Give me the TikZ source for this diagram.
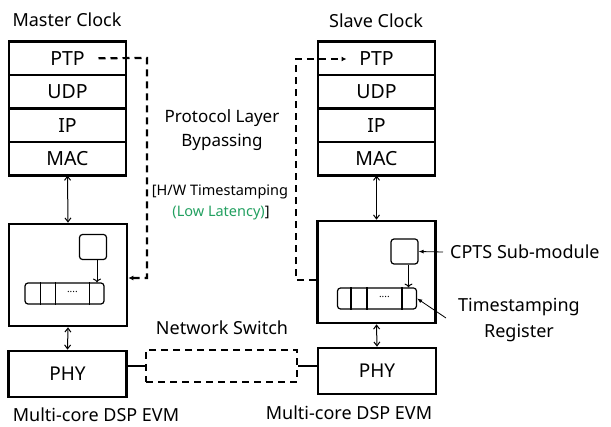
\documentclass[tikz,border=0pt]{standalone}
\usepackage{fontspec}
\setmainfont{Noto Sans}
\usepackage{tikz}
\usetikzlibrary{calc,positioning,arrows.meta}
\definecolor{latgreen}{RGB}{34,160,96}

\begin{document}
\begin{tikzpicture}[x=1pt,y=-1pt,
	layer/.style={draw,line width=2.4pt,outer sep=0pt,inner sep=0pt,minimum width=117pt,minimum height=33.5pt,font=\fontsize{19.5}{22}\selectfont},
	board/.style={draw,line width=2.6pt,inner sep=0pt,minimum width=118pt,minimum height=102pt},
	phybox/.style={draw,line width=2.6pt,inner sep=0pt,minimum width=118pt,minimum height=46pt,font=\fontsize{19}{22}\selectfont},
	cpts/.style={draw,line width=1.2pt,rounded corners=3pt,inner sep=0pt,minimum width=27pt,minimum height=25pt},
	reg/.style={draw,line width=1.2pt,rounded corners=3pt,inner sep=0pt,minimum width=79pt,minimum height=21pt},
	lbl/.style={inner sep=0pt,align=center,font=\fontsize{18}{26}\selectfont},
	note/.style={inner sep=0pt,font=\fontsize{14.5}{18}\selectfont},
	bypass/.style={dash pattern=on 7pt off 5pt,line width=2.2pt},
	link/.style={line width=2.6pt},
	dbl/.style={{Straight Barb[length=4pt,width=6pt]}-{Straight Barb[length=4pt,width=6pt]},line width=1pt},
	thin/.style={-{Latex[length=5pt,width=4pt]},line width=0.8pt}
]
\useasboundingbox (0,0) rectangle (611,427);

% master clock
\node[lbl] (mtitle) at (67,20) {Master Clock};
\node[layer] (mptp) at (67.5,58.25) {PTP};
\node[layer,below=0pt of mptp] (mudp) {UDP};
\node[layer,below=0pt of mudp] (mip) {IP};
\node[layer,below=0pt of mip] (mmac) {MAC};
\node[board] (mboard) at (68,275) {};
\node[cpts] (mcpts) at (93,247) {};
\node[reg] (mreg) at (64.5,293.5) {};
\foreach \d in {16,31,65}
	\draw[line width=1.2pt] ([xshift=\d pt]mreg.north west) -- ([xshift=\d pt]mreg.south west);
\node[font=\fontsize{10}{10}\selectfont] at ($(mreg.west)+(48,0)$) {····};
\node[phybox] (mphy) at (67.5,374) {PHY};
\node[lbl] (mevm) at (96,414.5) {Multi-core DSP EVM};

% slave clock
\node[lbl] (stitle) at (376,21) {Slave Clock};
\node[layer] (sptp) at (376.5,58.25) {PTP};
\node[layer,below=0pt of sptp] (sudp) {UDP};
\node[layer,below=0pt of sudp] (sip) {IP};
\node[layer,below=0pt of sip] (smac) {MAC};
\node[board] (sboard) at (376.5,272) {};
\node[cpts] (scpts) at (404.5,251.5) {};
\node[reg] (sreg) at (377,298.5) {};
\foreach \d in {14,30,65}
	\draw[line width=1.2pt] ([xshift=\d pt]sreg.north west) -- ([xshift=\d pt]sreg.south west);
\node[font=\fontsize{10}{10}\selectfont] at ($(sreg.west)+(47.5,0)$) {····};
\node[phybox] (sphy) at (377,371) {PHY};
\node[lbl] (sevm) at (349,413) {Multi-core DSP EVM};

% vertical links
\draw[dbl] (mmac.south) -- (mboard.north);
\draw[dbl] (mboard.south) -- (mphy.north);
\draw[dbl] (smac.south) -- (sboard.north);
\draw[dbl] (sboard.south) -- (sphy.north);
\draw[->,line width=1pt] ([xshift=4pt]mcpts.south) -- ([xshift=4pt]mcpts.south |- mreg.north);
\draw[->,line width=1pt] ([xshift=4pt]scpts.south) -- ([xshift=4pt]scpts.south |- sreg.north);

% bypass paths
\coordinate (mtop) at (147,58);
\coordinate (mlow) at (147,278);
\coordinate (stop) at (296,59);
\coordinate (slow) at (296,280);
\draw[bypass,-{Latex[length=5pt,width=5pt]}] ([xshift=31pt]mptp.center) -- (mtop) -- (mlow) -- (mlow -| mboard.east);
\draw[bypass,-{Latex[length=5pt,width=5pt]}] (slow -| sboard.west) -- (slow) -- (stop) -- ([xshift=-30pt]sptp.center |- stop);
\node[lbl,font=\fontsize{17}{24}\selectfont] (bypasstxt) at (222,130) {Protocol Layer\\Bypassing};
\node[note] (hwtxt) at (220,192) {[H/W Timestamping};
\node[note] (lattxt) at (221,213) {\textcolor{latgreen}{(Low Latency)}]};

% network switch
\node[draw,bypass,inner sep=0pt,minimum width=151pt,minimum height=32pt] (nsw) at (221.5,366) {};
\node[lbl] (nswtxt) at (222,328) {Network Switch};
\draw[link] (mphy.east |- nsw.west) -- (nsw.west);
\draw[link] (nsw.east) -- (nsw.east -| sphy.west);

% annotations
\node[lbl,anchor=west] (cptstxt) at (450,252) {CPTS Sub-module};
\node[lbl] (regtxt) at (519,320) {Timestamping\\Register};
\coordinate (regtip) at (446,318);
\draw[thin] ([xshift=-7pt]cptstxt.west) -- (scpts.east);
\draw[thin] (regtip) -- (sreg.east);
\end{tikzpicture}
\end{document}
